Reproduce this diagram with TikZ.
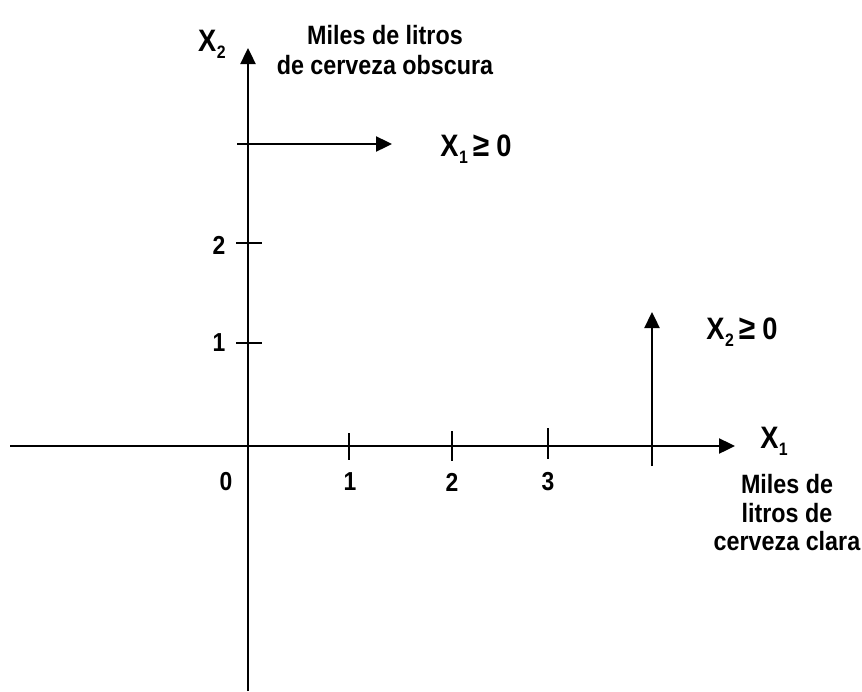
\documentclass[tikz,border=0pt]{standalone}
\usepackage{fontspec}
\setmainfont{Liberation Sans}[FakeStretch=0.88]
\usetikzlibrary{arrows.meta}
\newcommand{\Xs}[1]{X\kern0.5pt{\fontsize{18}{18}\selectfont\raisebox{-7pt}{#1}}}
\newcommand{\geqs}{\hspace{5pt}{\fontsize{34}{34}\selectfont ≥}\hspace{7pt}}
\begin{document}
\begin{tikzpicture}[x=1pt,y=-1pt,
  ax/.style={line width=2.4pt},
  tk/.style={line width=1.8pt},
  arr/.style={-{Triangle[length=16pt,width=15pt]}},
  lbl/.style={font=\fontsize{26.5}{30}\selectfont\bfseries, inner sep=0pt},
  num/.style={font=\fontsize{26}{28}\selectfont\bfseries, inner sep=0pt},
  xl/.style={font=\fontsize{31}{34}\selectfont\bfseries, inner sep=0pt}]
\useasboundingbox (0,0) rectangle (862,691);
% axes
\coordinate (xa) at (10,446);
\coordinate (xb) at (735,446);
\coordinate (ya) at (248,691);
\coordinate (yb) at (248,48);
\draw[ax,arr] (xa) -- (xb);
\draw[ax,arr] (ya) -- (yb);
% x ticks
\coordinate (t1a) at (349,433); \coordinate (t1b) at (349,460);
\coordinate (t2a) at (452,431); \coordinate (t2b) at (452,461);
\coordinate (t3a) at (548,428); \coordinate (t3b) at (548,459);
\draw[tk] (t1a) -- (t1b);
\draw[tk] (t2a) -- (t2b);
\draw[tk] (t3a) -- (t3b);
% y ticks
\coordinate (s2a) at (236,243); \coordinate (s2b) at (262,243);
\coordinate (s1a) at (236,343); \coordinate (s1b) at (262,343);
\draw[tk] (s2a) -- (s2b);
\draw[tk] (s1a) -- (s1b);
% constraint arrows
\coordinate (ha) at (237,144); \coordinate (hb) at (392,144);
\draw[ax,arr] (ha) -- (hb);
\coordinate (va) at (652,466); \coordinate (vb) at (652,312);
\draw[ax,arr] (va) -- (vb);
% tick labels
\node[num] (n0) at (226,482) {0};
\node[num] (n1) at (350,482) {1};
\node[num] (n2) at (452,482) {2};
\node[num] (n3) at (548,482) {3};
\node[num] (m2) at (219,245) {2};
\node[num] (m1) at (219,343) {1};
% axis labels
\node[xl] (x2) at (212,44) {\Xs{2}};
\node[lbl,align=center] (yt) at (385,50) {Miles de litros\\de cerveza obscura};
\node[xl] (x1) at (774,441) {\Xs{1}};
\node[lbl,align=center,font=\fontsize{26.5}{28.5}\selectfont\bfseries] (xt) at (787,513) {Miles de\\litros de\\cerveza clara};
% constraint labels
\node[xl] (c1) at (476,149) {\Xs{1}\geqs0};
\node[xl] (c2) at (742,332) {\Xs{2}\geqs0};
\end{tikzpicture}
\end{document}
